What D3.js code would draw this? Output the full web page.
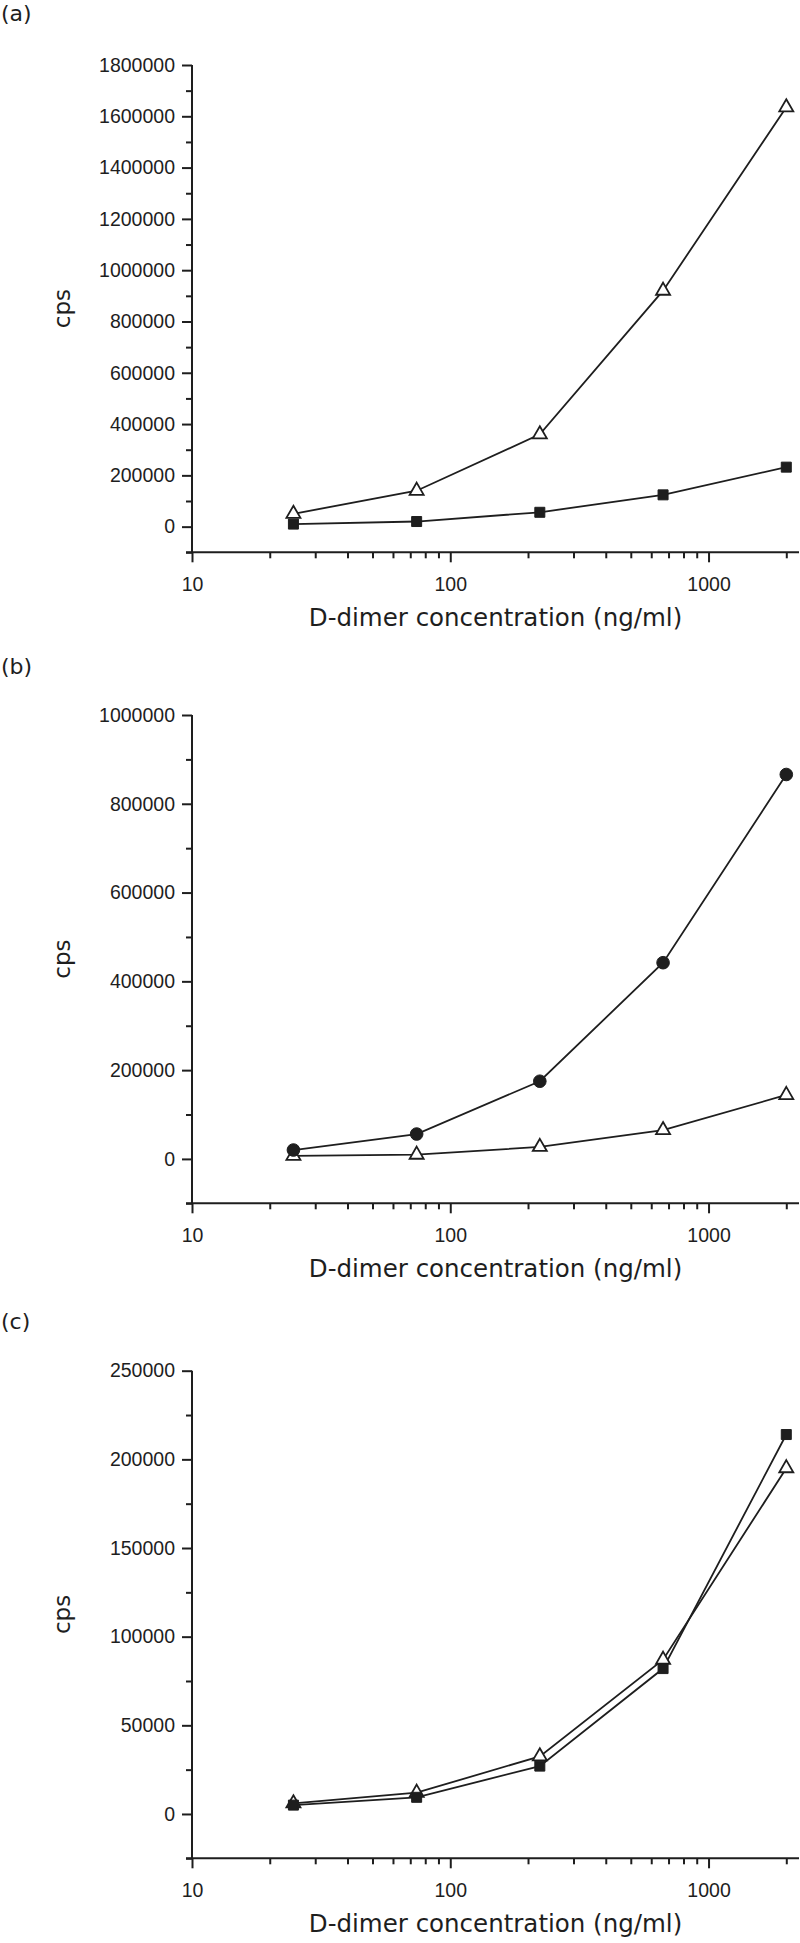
<!DOCTYPE html>
<html>
<head>
<meta charset="utf-8">
<script src="https://cdn.jsdelivr.net/npm/d3@7"></script>
<style>
  html, body { margin: 0; padding: 0; background: #fff; }
  svg { display: block; }
</style>
</head>
<body>
<svg id="chart" width="800" height="1943"></svg>
<script>
// ---- Data ----
const concentrations = [24.7, 74.1, 222.2, 666.7, 2000];
const xMajorTicks = [10, 100, 1000];
const xMinorTicks = [20, 30, 40, 50, 60, 70, 80, 90, 200, 300, 400, 500, 600, 700, 800, 900, 2000];

// Panel (a)
const aTriangle = [50000, 140000, 360000, 920000, 1635000];
const aSquare = [10000, 20000, 56000, 124000, 232000];
const aYTicks = [0, 200000, 400000, 600000, 800000, 1000000, 1200000, 1400000, 1600000, 1800000];
const aYMinor = [-100000, 100000, 300000, 500000, 700000, 900000, 1100000, 1300000, 1500000, 1700000];

// Panel (b)
const bCircle = [20000, 56000, 175000, 442000, 866000];
const bTriangle = [7000, 9500, 27000, 65000, 144000];
const bYTicks = [0, 200000, 400000, 600000, 800000, 1000000];
const bYMinor = [-100000, 100000, 300000, 500000, 700000, 900000];

// Panel (c)
const cSquare = [5000, 9400, 27000, 82000, 214000];
const cTriangle = [6000, 12000, 32500, 87000, 195000];
const cYTicks = [0, 50000, 100000, 150000, 200000, 250000];
const cYMinor = [-25000, 25000, 75000, 125000, 175000, 225000];

const xLabel = "D-dimer concentration (ng/ml)";
const yLabel = "cps";

// ---- Drawing ----
const svg = d3.select("#chart");
const ink = "#1e1e1e";
const tickFont = "Liberation Sans";
const x = d3.scaleLog().domain([10, 2240]).range([192, 799]);

const panels = [
  { tag: "(a)", tagY: 21, top: 65, bottom: 552.3, domain: [-100000, 1800000], major: aYTicks, minor: aYMinor,
    series: [ { values: aTriangle, shape: "triangle" }, { values: aSquare, shape: "square" } ] },
  { tag: "(b)", tagY: 674, top: 715, bottom: 1203.3, domain: [-100000, 1000000], major: bYTicks, minor: bYMinor,
    series: [ { values: bTriangle, shape: "triangle" }, { values: bCircle, shape: "circle" } ] },
  { tag: "(c)", tagY: 1329, top: 1370.7, bottom: 1858.3, domain: [-25000, 250000], major: cYTicks, minor: cYMinor,
    series: [ { values: cTriangle, shape: "triangle" }, { values: cSquare, shape: "square" } ] }
];

function styleAxis(g) {
  g.selectAll("path.domain").attr("stroke", ink).attr("stroke-width", 2);
  g.selectAll(".tick line").attr("stroke", ink).attr("stroke-width", 2);
  g.selectAll(".tick text").attr("fill", ink).attr("font-family", tickFont).attr("font-size", 19.5);
}

panels.forEach(p => {
  const y = d3.scaleLinear().domain(p.domain).range([p.bottom, p.top]);
  const g = svg.append("g");

  // panel tag
  g.append("text").attr("x", 1).attr("y", p.tagY)
    .attr("font-family", "DejaVu Sans").attr("font-size", 22).attr("fill", ink).text(p.tag);

  // y axis: minor ticks
  const yMinorG = g.append("g").attr("transform", `translate(${x.range()[0]},0)`)
    .call(d3.axisLeft(y).tickValues(p.minor).tickSize(6).tickSizeOuter(0).tickFormat(""));
  styleAxis(yMinorG);
  yMinorG.select("path.domain").remove();
  // y axis: major ticks
  const yG = g.append("g").attr("transform", `translate(${x.range()[0]},0)`)
    .call(d3.axisLeft(y).tickValues(p.major).tickSize(10).tickSizeOuter(0).tickPadding(7).tickFormat(d3.format("d")));
  styleAxis(yG);
  yG.select("path.domain").attr("d", `M0,${y(p.domain[1])}V${y(p.domain[0])}`);

  // x axis: minor ticks
  const xMinorG = g.append("g").attr("transform", `translate(0,${p.bottom})`)
    .call(d3.axisBottom(x).tickValues(xMinorTicks).tickSize(6).tickSizeOuter(0).tickFormat(""));
  styleAxis(xMinorG);
  xMinorG.select("path.domain").remove();
  const xG = g.append("g").attr("transform", `translate(0,${p.bottom})`)
    .call(d3.axisBottom(x).tickValues(xMajorTicks).tickSize(10).tickSizeOuter(0).tickPadding(15).tickFormat(d3.format("d")));
  styleAxis(xG);
  xG.select("path.domain").attr("d", `M${x.range()[0] - 6},0H${x.range()[1]}`);

  // axis titles
  g.append("text")
    .attr("x", (x.range()[0] + x.range()[1]) / 2).attr("y", p.bottom + 74)
    .attr("text-anchor", "middle").attr("font-family", "DejaVu Sans").attr("font-size", 24.5)
    .attr("fill", ink).text(xLabel);
  g.append("text")
    .attr("transform", `translate(70,${(p.top + p.bottom) / 2}) rotate(-90)`)
    .attr("text-anchor", "middle").attr("font-family", "DejaVu Sans").attr("font-size", 23)
    .attr("fill", ink).text(yLabel);

  // series lines
  const line = d3.line().x((d, i) => x(concentrations[i])).y(d => y(d));
  p.series.forEach(s => {
    g.append("path").datum(s.values).attr("d", line)
      .attr("fill", "none").attr("stroke", ink).attr("stroke-width", 1.8);
  });
  // markers
  p.series.forEach(s => {
    const type = s.shape === "triangle" ? d3.symbolTriangle : s.shape === "square" ? d3.symbolSquare : d3.symbolCircle;
    const size = s.shape === "triangle" ? 85 : s.shape === "square" ? 100 : 125;
    g.append("g").selectAll("path").data(s.values).join("path")
      .attr("transform", (d, i) => `translate(${x(concentrations[i])},${y(d)})`)
      .attr("d", d3.symbol().type(type).size(size))
      .attr("fill", s.shape === "triangle" ? "#fff" : ink)
      .attr("stroke", ink).attr("stroke-width", s.shape === "triangle" ? 1.8 : 1);
  });
});
</script>
</body>
</html>
